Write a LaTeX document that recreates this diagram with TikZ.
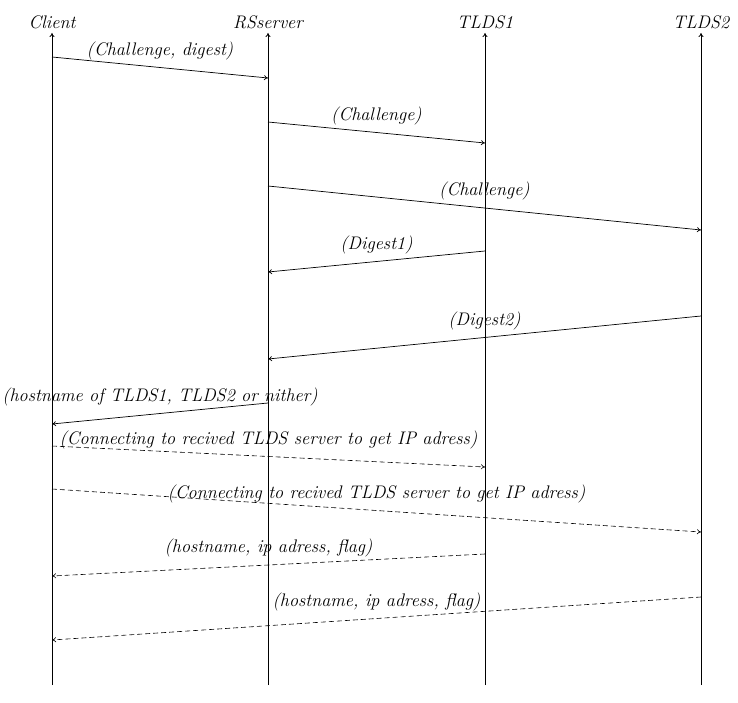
\documentclass[tikz,border=0pt]{standalone}
\usetikzlibrary{arrows.meta}
\begin{document}
\begin{tikzpicture}[x=1pt,y=-1pt,
  msg/.style={-{To[length=4pt,width=5pt]},line width=0.7pt},
  dmsg/.style={msg,dashed,dash pattern=on 5pt off 3pt,line width=0.6pt},
  life/.style={-{To[length=4pt,width=5pt]},line width=0.8pt},
  lbl/.style={font=\fontsize{18.2}{21}\selectfont\itshape,inner sep=2pt,above=5.5pt},
  head/.style={font=\fontsize{18.2}{21}\selectfont\itshape,inner sep=0pt}]
\useasboundingbox (0,0) rectangle (738,703);
% lifeline coordinates
\foreach \n/\x in {c/52,r/268,t/485,u/701}{
  \coordinate (\n b) at (\x,685);
  \coordinate (\n t) at (\x,33);
}
\node[head] (hc) at (52,22) {Client};
\node[head] (hr) at (268,22) {RSserver};
\node[head] (ht) at (485,22) {TLDS1};
\node[head] (hu) at (701,22) {TLDS2};
\draw[life] (cb) -- (ct);
\draw[life] (rb) -- (rt);
\draw[life] (tb) -- (tt);
\draw[life] (ub) -- (ut);
% message endpoints
\coordinate (m1a) at (52,57);   \coordinate (m1b) at (268,78);
\coordinate (m2a) at (268,122); \coordinate (m2b) at (485,143);
\coordinate (m3a) at (268,186); \coordinate (m3b) at (701,230);
\coordinate (m4a) at (485,251); \coordinate (m4b) at (268,272);
\coordinate (m5a) at (701,316); \coordinate (m5b) at (268,359);
\coordinate (m6a) at (268,403); \coordinate (m6b) at (52,424);
\coordinate (m7a) at (52,446);  \coordinate (m7b) at (485,467);
\coordinate (m8a) at (52,489);  \coordinate (m8b) at (701,532);
\coordinate (m9a) at (485,554); \coordinate (m9b) at (52,576);
\coordinate (m10a) at (701,597); \coordinate (m10b) at (52,640);
\draw[msg] (m1a) -- node[lbl] {(Challenge, digest)} (m1b);
\draw[msg] (m2a) -- node[lbl] {(Challenge)} (m2b);
\draw[msg] (m3a) -- node[lbl] {(Challenge)} (m3b);
\draw[msg] (m4a) -- node[lbl] {(Digest1)} (m4b);
\draw[msg] (m5a) -- node[lbl] {(Digest2)} (m5b);
\draw[msg] (m6a) -- node[lbl] {(hostname of TLDS1, TLDS2 or nither)} (m6b);
\draw[dmsg] (m7a) -- node[lbl] {(Connecting to recived TLDS server to get IP adress)} (m7b);
\draw[dmsg] (m8a) -- node[lbl] {(Connecting to recived TLDS server to get IP adress)} (m8b);
\draw[dmsg] (m9a) -- node[lbl] {(hostname, ip adress, flag)} (m9b);
\draw[dmsg] (m10a) -- node[lbl] {(hostname, ip adress, flag)} (m10b);
\end{tikzpicture}
\end{document}
